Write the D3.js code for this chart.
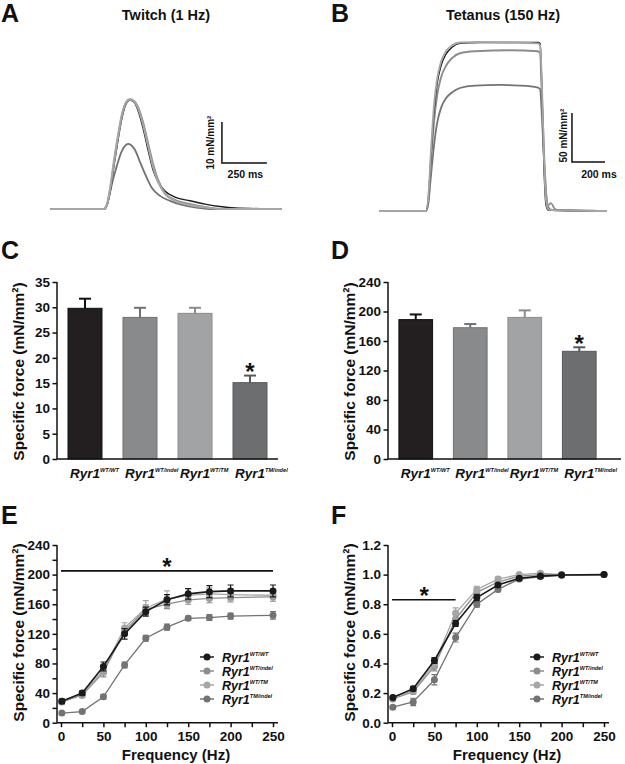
<!DOCTYPE html>
<html><head><meta charset="utf-8">
<script src="https://cdn.jsdelivr.net/npm/d3@7"></script>
<style>
body{margin:0;background:#fff}
text{font-family:"Liberation Sans",Arial,Helvetica,sans-serif;font-weight:bold;fill:#111}
</style>
</head><body>
<svg id="fig" width="625" height="764" xmlns="http://www.w3.org/2000/svg"></svg>
<script>
// ---------------- DATA ----------------
const genotypes = ["WT/WT", "WT/indel", "WT/TM", "TM/indel"];
const fills   = ["#231f20", "#898a8c", "#a2a3a5", "#6d6e70"];
const strokes = ["#111111", "#707173", "#8b8c8e", "#58595b"];
const lineCols = ["#1a1a1a", "#8c8c8c", "#a6a6a6", "#737373"];

// Panel A: twitch traces [time ms, force mN/mm2]
const twitchWTWT = [[0,0],[300,0],[317,1.0],[334,4.1],[356,10.7],[378,16.8],[400,22.2],[423,25.6],[445,26.6],[467,26.1],[489,24.1],[517,19.8],[545,14.4],[573,9.5],[601,6.6],[639,4.4],[695,2.9],[778,2.0],[862,1.2],[945,0.6],[1029,0.25],[1290,0]];
const twitchWTindel = [[0,0],[300,0],[317,1.0],[334,4.6],[356,11.2],[378,17.3],[400,22.7],[423,25.9],[445,26.6],[467,26.3],[489,24.9],[517,21.2],[545,16.1],[573,11.0],[601,7.1],[639,3.9],[695,2.2],[778,1.2],[862,0.5],[945,0],[1290,0]];
const twitchWTTM = [[0,0],[300,0],[317,1.2],[334,5.1],[356,12.0],[378,18.0],[400,23.2],[423,26.1],[445,26.8],[467,26.3],[489,24.6],[517,20.7],[545,15.4],[573,10.2],[601,6.6],[639,3.7],[695,2.0],[778,1.0],[862,0.4],[945,0],[1290,0]];
const twitchTMindel = [[0,0],[300,0],[317,1.0],[334,4.1],[350,7.1],[373,10.7],[395,13.7],[417,15.4],[434,15.9],[450,15.6],[473,14.4],[500,11.5],[534,8.0],[567,5.1],[612,3.2],[667,2.0],[734,1.0],[806,0.4],[890,0],[1290,0]];

// Panel B: tetanus traces [time ms, force mN/mm2]
const tetWTWT = [[0,0],[284,0],[297,9],[315,57],[333,101],[351,129],[375,148],[405,160],[442,167],[490,171],[611,172],[793,172],[962,172],[975,171],[987,118],[999,42],[1011,6],[1023,1],[1380,0]];
const tetWTindel = [[0,0],[284,0],[297,8],[315,50],[333,91],[351,117],[375,136],[405,148],[442,156],[490,161],[581,163],[793,164],[962,163],[975,161],[987,113],[1005,37],[1023,6],[1041,8],[1065,2],[1095,1],[1380,0]];
const tetWTTM = [[0,0],[284,0],[297,11],[315,62],[333,108],[351,134],[375,152],[405,163],[442,169],[490,172],[611,172.4],[793,172],[962,171],[975,169],[987,123],[999,52],[1011,11],[1023,2],[1047,1],[1380,0]];
const tetTMindel = [[0,0],[284,0],[297,6],[315,37],[333,67],[351,89],[375,105],[405,115],[442,121],[490,125.5],[581,128],[732,128.6],[853,128],[962,126],[975,124.5],[987,93],[1005,32],[1023,4],[1047,1],[1380,0]];

// Panel C: twitch specific force (mean, SEM)
const twitchMean = [29.8, 28.0, 28.8, 15.1];
const twitchSEM  = [1.9, 1.9, 1.1, 1.4];
// Panel D: tetanic specific force (mean, SEM)
const tetMean = [189, 178, 192, 146];
const tetSEM  = [7, 5, 9.5, 5.5];

// Panel E/F: force-frequency
const freqs = [1, 25, 50, 75, 100, 125, 150, 175, 200, 250];
const forceWTWT    = [29, 40, 76, 120, 150, 166, 174, 177, 178, 178];
const forceWTindel = [28, 37, 68, 124, 153, 160, 166, 168, 169, 170];
const forceWTTM    = [29, 38, 71, 128, 155, 167, 172, 174, 173, 172];
const forceTMindel = [13, 15, 35, 78, 114, 129, 141, 142, 144, 145];
const forceSEM_WTWT    = [3, 3, 6, 7, 6, 7, 7, 8, 8, 8];
const forceSEM_WTindel = [3, 3, 6, 6, 6, 6, 6, 6, 6, 6];
const forceSEM_WTTM    = [3, 3, 6, 7, 10, 11, 9, 8, 8, 8];
const forceSEM_TMindel = [2, 2, 3, 4, 4, 4, 3, 4, 4, 5];

const normWTWT    = [0.17, 0.23, 0.42, 0.67, 0.845, 0.93, 0.975, 0.99, 0.997, 1.0];
const normWTindel = [0.16, 0.21, 0.38, 0.70, 0.88, 0.95, 0.99, 1.0, 1.0, 1.0];
const normWTTM    = [0.17, 0.22, 0.40, 0.74, 0.90, 0.97, 1.0, 1.01, 1.0, 1.0];
const normTMindel = [0.105, 0.14, 0.29, 0.575, 0.80, 0.90, 0.97, 0.985, 0.995, 1.0];
const normSEM_WTWT    = [0.01, 0.015, 0.02, 0.02, 0.02, 0.01, 0.01, 0.01, 0.005, 0];
const normSEM_WTindel = [0.01, 0.015, 0.03, 0.03, 0.02, 0.02, 0.01, 0.01, 0.005, 0];
const normSEM_WTTM    = [0.01, 0.02, 0.03, 0.035, 0.02, 0.015, 0.01, 0.01, 0.005, 0];
const normSEM_TMindel = [0.01, 0.025, 0.035, 0.03, 0.02, 0.015, 0.01, 0.01, 0.005, 0];

const panelLetters = ["A", "B", "C", "D", "E", "F"];
const titles = ["Twitch (1 Hz)", "Tetanus (150 Hz)"];
const yLabel = "Specific force (mN/mm²)";
const xLabel = "Frequency (Hz)";

// ---------------- DRAW ----------------
const svg = d3.select("#fig");
svg.append("rect").attr("width",625).attr("height",764).attr("fill","#fff");

const letterPos = [[1,22],[331,22],[1,259],[331,259],[1,524],[331,524]];
panelLetters.forEach((L,i)=>{
  svg.append("text").attr("x",letterPos[i][0]).attr("y",letterPos[i][1])
    .attr("font-size",25).text(L);
});

function ryr(g, x, y, sup, fs, sfs, centerMain) {
  const t = g.append("text").attr("x", x).attr("y", y)
    .attr("font-size", fs).attr("font-style", "italic");
  t.append("tspan").text("Ryr1");
  t.append("tspan").attr("font-size", sfs).attr("dy", -fs*0.42).text(sup);
  if (centerMain) {
    const w = t.node().getSubStringLength(0, 4);
    t.attr("x", x - w/2);
  }
  return t;
}

// ---------- Panel A ----------
(function(){
  const g = svg.append("g");
  g.append("text").attr("x",166).attr("y",19.5).attr("text-anchor","middle").attr("font-size",14.5).text(titles[0]);
  const x = d3.scaleLinear().domain([0,1290]).range([50,282]);
  const y = d3.scaleLinear().domain([0,30]).range([209,86]);
  const line = d3.line().x(d=>x(d[0])).y(d=>y(d[1])).curve(d3.curveMonotoneX);
  const traces = [
    {d: twitchTMindel, c: lineCols[3], w: 1.8},
    {d: twitchWTWT, c: lineCols[0], w: 1.4},
    {d: twitchWTindel, c: lineCols[1], w: 2.0},
    {d: twitchWTTM, c: lineCols[2], w: 2.0}
  ];
  traces.forEach(t=>g.append("path").attr("d",line(t.d)).attr("fill","none")
    .attr("stroke",t.c).attr("stroke-width",t.w).attr("stroke-linejoin","round"));
  const t0 = 956, f0 = 11.2;
  g.append("path").attr("d",`M${x(t0)},${y(f0+10)}V${y(f0)}H${x(t0+250)}`)
    .attr("fill","none").attr("stroke","#111").attr("stroke-width",1.5);
  g.append("text").attr("x",(x(t0)+x(t0+250))/2+1).attr("y",178).attr("text-anchor","middle")
    .attr("font-size",10.5).text("250 ms");
  g.append("text").attr("transform",`translate(214,${(y(f0)+y(f0+10))/2}) rotate(-90)`)
    .attr("text-anchor","middle").attr("font-size",10).text("10 mN/mm²");
})();

// ---------- Panel B ----------
(function(){
  const g = svg.append("g");
  g.append("text").attr("x",503).attr("y",19.5).attr("text-anchor","middle").attr("font-size",14.5).text(titles[1]);
  const x = d3.scaleLinear().domain([0,1380]).range([379,607]);
  const y = d3.scaleLinear().domain([0,200]).range([211,15]);
  const line = d3.line().x(d=>x(d[0])).y(d=>y(d[1])).curve(d3.curveMonotoneX);
  const traces = [
    {d: tetTMindel, c: lineCols[3], w: 1.8},
    {d: tetWTindel, c: lineCols[1], w: 1.9},
    {d: tetWTWT, c: lineCols[0], w: 1.4},
    {d: tetWTTM, c: lineCols[2], w: 1.9}
  ];
  traces.forEach(t=>g.append("path").attr("d",line(t.d)).attr("fill","none")
    .attr("stroke",t.c).attr("stroke-width",t.w).attr("stroke-linejoin","round"));
  const t0 = 1168, f0 = 50;
  g.append("path").attr("d",`M${x(t0)},${y(f0+50)}V${y(f0)}H${x(t0+200)}`)
    .attr("fill","none").attr("stroke","#111").attr("stroke-width",1.5);
  g.append("text").attr("x",599).attr("y",178).attr("text-anchor","middle")
    .attr("font-size",10.5).text("200 ms");
  g.append("text").attr("transform",`translate(567,${(y(f0)+y(f0+50))/2-2}) rotate(-90)`)
    .attr("text-anchor","middle").attr("font-size",10).text("50 mN/mm²");
})();

// ---------- Bar panels C, D ----------
function styleAxis(a){
  a.selectAll(".tick line").attr("stroke","#111").attr("stroke-width",1.5);
  a.selectAll(".tick text").attr("font-size",13.5).attr("fill","#111")
    .style("font-family",'"Liberation Sans",Arial,sans-serif').style("font-weight","bold");
}
function barPanel(opts){
  const g = svg.append("g");
  const y = d3.scaleLinear().domain([0, opts.max]).range([459, 282]);
  const x = d3.scaleBand().domain(genotypes).range([opts.x0, opts.x1]).paddingInner(0.382).paddingOuter(0.2);
  genotypes.forEach((gt,i)=>{
    const bx = x(gt), bw = x.bandwidth(), cx = bx + bw/2;
    const top = y(opts.mean[i]), etop = y(opts.mean[i] + opts.sem[i]);
    g.append("line").attr("x1",cx).attr("x2",cx).attr("y1",top).attr("y2",etop)
      .attr("stroke",strokes[i]).attr("stroke-width",2);
    g.append("line").attr("x1",cx-6).attr("x2",cx+6).attr("y1",etop).attr("y2",etop)
      .attr("stroke",strokes[i]).attr("stroke-width",2);
    g.append("rect").attr("x",bx).attr("y",top).attr("width",bw).attr("height",y(0)-top)
      .attr("fill",fills[i]).attr("stroke",strokes[i]).attr("stroke-width",1);
    ryr(g, cx, 477.5, genotypes[i], 13.5, 5.6, true);
  });
  const ax = g.append("g").attr("transform",`translate(${opts.x0},0)`)
    .call(d3.axisLeft(y).tickValues(opts.ticks).tickSize(4.5).tickPadding(2.5).tickFormat(d3.format("d")));
  ax.select(".domain").attr("stroke","#111").attr("stroke-width",1.5).attr("d",`M0,${y(opts.max)}V${y(0)}`);
  styleAxis(ax);
  g.append("line").attr("x1",opts.x0).attr("x2",opts.axEnd).attr("y1",y(0)).attr("y2",y(0))
    .attr("stroke","#111").attr("stroke-width",1.5);
  g.append("text").attr("transform",`translate(${opts.labX},371.5) rotate(-90)`)
    .attr("text-anchor","middle").attr("font-size",15.5).text(yLabel);
  const i4 = 3;
  g.append("text").attr("x", x(genotypes[i4]) + x.bandwidth()/2).attr("y", opts.starY)
    .attr("text-anchor","middle").attr("font-size",24).text("*");
}
barPanel({max:35, x0:57, x1:278, axEnd:278, mean:twitchMean, sem:twitchSEM, ticks:d3.range(0,36,5), labX:24, starY:380});
barPanel({max:240, x0:388, x1:607, axEnd:621, mean:tetMean, sem:tetSEM, ticks:d3.range(0,241,40), labX:355, starY:352});

// ---------- Line panels E, F ----------
function linePanel(opts){
  const g = svg.append("g");
  const y = d3.scaleLinear().domain([0, opts.max]).range([722.7, 545]);
  const x = d3.scaleLinear().domain([0, 250]).range([opts.x0+4, opts.x0+216]);
  const yax = g.append("g").attr("transform",`translate(${opts.x0},0)`)
    .call(d3.axisLeft(y).tickValues(opts.yTicks).tickSize(4.5).tickPadding(2.5)
      .tickFormat(d => opts.yLabelTicks.some(v=>Math.abs(v-d)<1e-9) ? opts.fmt(d) : ""));
  yax.select(".domain").attr("stroke","#111").attr("stroke-width",1.5).attr("d",`M0,${y(opts.max)}V${y(0)}`);
  const xax = g.append("g").attr("transform",`translate(0,${y(0)})`)
    .call(d3.axisBottom(x).tickValues(d3.range(0,251,25)).tickSize(4.5).tickPadding(4.5)
      .tickFormat(d => d % 50 === 0 ? d : ""));
  xax.select(".domain").attr("stroke","#111").attr("stroke-width",1.5).attr("d",`M${opts.x0},0H${opts.x0+221}`);
  styleAxis(yax); styleAxis(xax);
  g.append("text").attr("transform",`translate(${opts.labX},632.5) rotate(-90)`)
    .attr("text-anchor","middle").attr("font-size",15.5).text(yLabel);
  g.append("text").attr("x",opts.x0+119).attr("y",759.5).attr("text-anchor","middle")
    .attr("font-size",15).text(xLabel);
  g.append("line").attr("x1",x(0)).attr("x2",x(opts.sigEnd)).attr("y1",y(opts.sigY)).attr("y2",y(opts.sigY))
    .attr("stroke","#111").attr("stroke-width",1.6);
  g.append("text").attr("x",x(opts.starX)).attr("y",y(opts.sigY)+4).attr("text-anchor","middle")
    .attr("font-size",24).text("*");
  const order = [3,1,2,0];
  const line = d3.line().x((d,i)=>x(freqs[i])).y(d=>y(d));
  order.forEach(k=>{
    const s = opts.series[k], e = opts.errs[k], c = lineCols[k];
    g.append("path").attr("d",line(s)).attr("fill","none").attr("stroke",c)
      .attr("stroke-width", k===0?1.6:1.3);
    s.forEach((v,i)=>{
      if (e[i] > 0) {
        const cx = x(freqs[i]), y1 = y(v+e[i]), y2 = y(v-e[i]);
        g.append("path").attr("d",`M${cx},${y1}V${y2}M${cx-3},${y1}H${cx+3}M${cx-3},${y2}H${cx+3}`)
          .attr("stroke",c).attr("stroke-width",1.2).attr("fill","none");
      }
      g.append("circle").attr("cx",x(freqs[i])).attr("cy",y(v)).attr("r",3.5).attr("fill",c);
    });
  });
  const rows = [657,671,685,699];
  genotypes.forEach((gt,i)=>{
    g.append("line").attr("x1",opts.legX).attr("x2",opts.legX+14).attr("y1",rows[i]).attr("y2",rows[i])
      .attr("stroke",lineCols[i]).attr("stroke-width",1.5);
    g.append("circle").attr("cx",opts.legX+7).attr("cy",rows[i]).attr("r",3.5).attr("fill",lineCols[i]);
    ryr(g, opts.legX+22, rows[i]+4.5, gt, 12.5, 5.5, false);
  });
}
linePanel({max:240, x0:57, yTicks:d3.range(0,241,20), yLabelTicks:d3.range(0,241,40), fmt:d3.format("d"),
  labX:24, sigEnd:250, sigY:205, starX:125,
  series:[forceWTWT, forceWTindel, forceWTTM, forceTMindel],
  errs:[forceSEM_WTWT, forceSEM_WTindel, forceSEM_WTTM, forceSEM_TMindel], legX:200});
linePanel({max:1.2, x0:388, yTicks:d3.range(0,1.21,0.2).map(v=>+v.toFixed(1)), yLabelTicks:[0,0.2,0.4,0.6,0.8,1.0,1.2],
  fmt:d3.format(".1f"), labX:355, sigEnd:75, sigY:0.83, starX:38,
  series:[normWTWT, normWTindel, normWTTM, normTMindel],
  errs:[normSEM_WTWT, normSEM_WTindel, normSEM_WTTM, normSEM_TMindel], legX:530});
</script>
</body></html>
